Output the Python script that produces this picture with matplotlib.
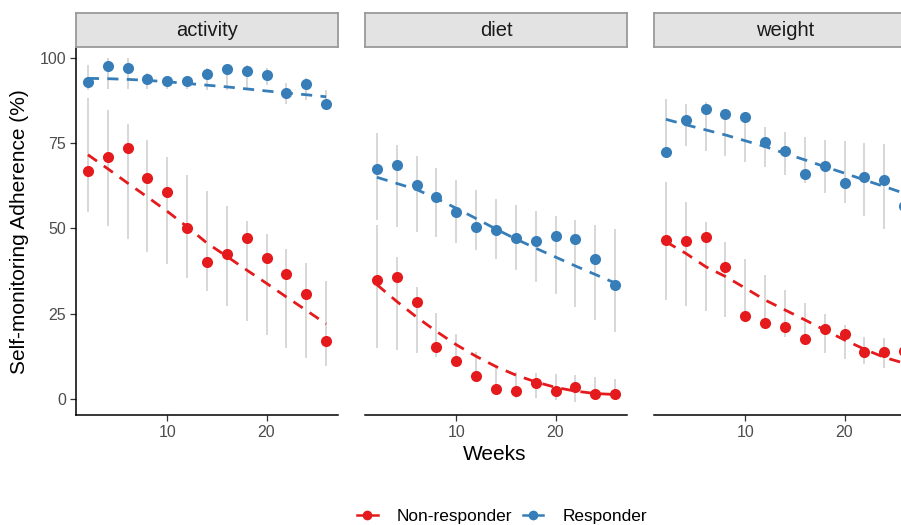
"""
Self-monitoring adherence by week for responders and non-responders,
faceted by tracking domain (activity, diet, weight).
"""

import matplotlib
matplotlib.use('Agg')
import matplotlib.pyplot as plt
from matplotlib.lines import Line2D

# Data
# ----------------------------------------------------------------------------

weeks = [2, 4, 6, 8, 10, 12, 14, 16, 18, 20, 22, 24, 26]
domains = ['activity', 'diet', 'weight']
groups = ['Non-responder', 'Responder']

# activity
act_nr = [66.7, 70.8, 73.5, 64.9, 60.7, 50.2, 40.1, 42.5, 47.3, 41.4, 36.7, 30.8, 17.1]
act_nr_lo = [54.9, 50.7, 46.8, 43.2, 39.5, 35.6, 31.7, 27.3, 23.0, 18.7, 15.0, 12.0, 9.8]
act_nr_hi = [88.2, 84.8, 80.6, 76.0, 70.9, 65.7, 61.0, 56.6, 52.3, 48.3, 44.0, 39.8, 34.7]
act_nr_fit = [71.6, 67.5, 63.3, 59.2, 55.0, 50.5, 45.7, 41.8, 37.8, 33.9, 29.9, 26.0, 22.0]

act_r = [92.8, 97.5, 96.9, 93.9, 93.2, 93.2, 95.3, 96.6, 96.3, 95.1, 89.8, 92.2, 86.6]
act_r_lo = [90.5, 90.8, 91.0, 90.8, 90.8, 90.8, 90.6, 90.6, 91.0, 92.0, 86.5, 87.7, 85.0]
act_r_hi = [97.9, 100.0, 100.0, 95.5, 94.6, 94.6, 97.0, 98.0, 98.0, 97.0, 92.5, 94.0, 90.6]
act_r_fit = [94.0, 93.9, 93.7, 93.4, 93.0, 92.5, 92.0, 91.5, 90.9, 90.3, 89.7, 89.2, 88.6]

# diet
diet_nr = [34.9, 35.9, 28.5, 15.3, 11.2, 6.8, 3.0, 2.3, 4.6, 2.3, 3.6, 1.5, 1.4]
diet_nr_lo = [15.0, 14.4, 13.4, 12.2, 10.0, 5.6, 1.7, 0.2, 0.2, -0.3, -1.0, 0.0, 0.2]
diet_nr_hi = [51.0, 41.7, 32.9, 25.3, 19.0, 13.7, 9.0, 8.0, 7.5, 7.3, 7.0, 6.4, 6.0]
diet_nr_fit = [33.5, 28.6, 24.0, 19.8, 15.9, 12.5, 9.5, 7.0, 5.0, 3.4, 2.3, 1.6, 1.3]

diet_r = [67.4, 68.6, 62.8, 59.1, 54.8, 50.3, 49.4, 47.3, 46.3, 47.8, 46.8, 41.1, 33.5]
diet_r_lo = [52.5, 50.5, 49.1, 47.6, 45.8, 43.7, 41.0, 37.8, 34.2, 30.7, 26.9, 23.2, 19.7]
diet_r_hi = [77.9, 74.5, 71.1, 67.7, 64.2, 61.3, 58.6, 56.9, 55.2, 53.7, 52.5, 51.0, 49.8]
diet_r_fit = [65.0, 63.2, 61.4, 58.8, 55.9, 52.9, 49.8, 46.9, 44.2, 41.6, 39.0, 36.5, 34.0]

# weight
wt_nr = [46.6, 46.3, 47.6, 38.6, 24.4, 22.2, 21.0, 17.5, 20.5, 19.0, 13.9, 13.9, 14.2]
wt_nr_lo = [29.0, 27.3, 25.8, 24.0, 22.7, 20.7, 18.1, 15.8, 13.4, 11.6, 10.3, 9.0, 8.0]
wt_nr_hi = [63.7, 57.7, 52.0, 46.1, 41.0, 36.4, 32.0, 28.2, 24.8, 21.7, 18.3, 18.0, 17.5]
wt_nr_fit = [46.1, 42.7, 38.8, 35.9, 32.5, 29.0, 26.1, 23.2, 20.2, 17.3, 14.6, 12.2, 10.5]

wt_r = [72.5, 81.8, 85.0, 83.5, 82.6, 75.3, 72.7, 65.9, 68.3, 63.3, 65.0, 64.2, 56.6]
wt_r_lo = [71.0, 74.2, 72.8, 71.3, 69.6, 68.0, 65.7, 63.3, 60.3, 57.4, 53.7, 49.9, 46.1]
wt_r_hi = [88.0, 86.5, 87.0, 84.8, 83.8, 79.6, 78.2, 76.9, 76.0, 75.5, 75.0, 74.7, 74.5]
wt_r_fit = [82.0, 80.4, 78.9, 77.4, 75.7, 74.0, 72.0, 70.1, 68.1, 66.2, 64.2, 62.3, 60.3]

yticks = [0, 25, 50, 75, 100]
xticks = [10, 20]

# Plot
# ----------------------------------------------------------------------------

plt.rcParams['font.family'] = ['Liberation Sans', 'DejaVu Sans']

red = '#E41A1C'
blue = '#377EB8'
colors = [red, blue]

panels = {
    'activity': [(act_nr, act_nr_lo, act_nr_hi, act_nr_fit),
                 (act_r, act_r_lo, act_r_hi, act_r_fit)],
    'diet': [(diet_nr, diet_nr_lo, diet_nr_hi, diet_nr_fit),
             (diet_r, diet_r_lo, diet_r_hi, diet_r_fit)],
    'weight': [(wt_nr, wt_nr_lo, wt_nr_hi, wt_nr_fit),
               (wt_r, wt_r_lo, wt_r_hi, wt_r_fit)],
}

W, H = 901, 525
fig = plt.figure(figsize=(W / 100, H / 100), dpi=100)

lefts = [76, 365, 654]      # panel left edges [px]
pw, ph = 262, 367           # panel size [px]
pbottom = 110               # panel bottom from figure bottom [px]

for i, dom in enumerate(domains):
    ax = fig.add_axes([lefts[i] / W, pbottom / H, pw / W, ph / H])

    for (pts, lo, hi, fit), c in zip(panels[dom], colors):
        ax.vlines(weeks, lo, hi, color='#d4d4d4', lw=1.3, zorder=1)
        ax.plot(weeks, pts, 'o', color=c, ms=8, mec='none', zorder=2)
        ax.plot(weeks, fit, color=c, lw=2.0, ls=(0, (4, 3)), zorder=3)

    ax.set_xlim(0.8, 27.2)
    ax.set_ylim(-4.7, 102.9)
    ax.set_xticks(xticks)
    ax.set_yticks(yticks)
    for s in ['top', 'right']:
        ax.spines[s].set_visible(False)
    ax.spines['bottom'].set_linewidth(1.1)
    ax.spines['left'].set_linewidth(1.1)
    ax.tick_params(colors='#333333', labelcolor='#4d4d4d', labelsize=11.5,
                   length=4, width=0.9, pad=3)
    if i > 0:
        ax.spines['left'].set_visible(False)
        ax.tick_params(axis='y', left=False, labelleft=False)

    # facet strip
    sax = fig.add_axes([lefts[i] / W, (H - 47) / H, pw / W, 34 / H])
    sax.set_facecolor('#e3e3e3')
    sax.set_xticks([])
    sax.set_yticks([])
    for s in sax.spines.values():
        s.set_color('#9a9a9a')
        s.set_linewidth(1.3)
    sax.text(0.5, 0.5, dom, ha='center', va='center', fontsize=14.5,
             color='#1a1a1a', transform=sax.transAxes)

fig.text(20 / W, 1 - 232 / H, 'Self-monitoring Adherence (%)', rotation=90,
         ha='center', va='center', fontsize=15)
fig.text(495 / W, 1 - 455 / H, 'Weeks', ha='center', va='center', fontsize=15)

handles = [Line2D([], [], color=c, marker='o', ms=7, mec='none', lw=1.8)
           for c in colors]
fig.legend(handles, groups, loc='center', bbox_to_anchor=(502 / W, 1 - 516 / H),
           ncol=2, frameon=False, fontsize=12.4, handlelength=1.2,
           columnspacing=0.6, handletextpad=1.1)

fig.savefig('out.png', dpi=100)
